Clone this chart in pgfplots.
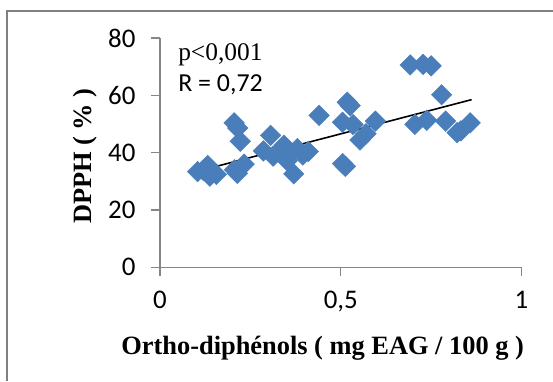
\documentclass[border=0pt]{standalone}
\usepackage{pgfplots}
\pgfplotsset{compat=1.18}
\usepackage{fontspec}
\setmainfont{Liberation Serif}
\newfontfamily\calibri{Carlito}

\definecolor{ptblue}{RGB}{74,126,187}
\definecolor{axgray}{RGB}{134,134,134}
\definecolor{framegray}{RGB}{128,128,128}

\begin{document}
\begin{tikzpicture}[x=1bp,y=1bp]
\useasboundingbox (-160,-113.7) rectangle (393,267.3);
% chart area border (left and top edges)
\draw[framegray, line width=1.5bp] (-153,-113.7) -- (-153,256.5) -- (393,256.5);
\begin{axis}[
  at={(0,0)}, anchor=south west,
  scale only axis, width=361.5bp, height=229.3bp,
  xmin=0, xmax=1, ymin=0, ymax=80,
  axis lines=left,
  axis line style={axgray, line width=1.2bp, -},
  tick style={axgray, line width=1.2bp},
  tick align=outside, major tick length=9bp,
  xtick={0,0.5,1}, xticklabels={0,{0,5},1},
  ytick={0,20,40,60,80}, yticklabels={0,20,40,60,80},
  ticklabel style={font=\calibri\fontsize{27}{27}\selectfont},
  xticklabel style={yshift=-11bp},
  yticklabel style={xshift=-12bp},
  xlabel={Ortho-diphénols ( mg EAG / 100 g )},
  ylabel={DPPH ( \% )},
  label style={font=\bfseries\fontsize{26.5}{26.5}\selectfont},
  xlabel style={at={(axis description cs:0.45,-0.352)}, anchor=center},
  ylabel style={at={(axis description cs:-0.206,0.485)}, anchor=center},
  clip=false,
]
\addplot[only marks, mark=square*, mark size=7.3bp,
  mark options={rotate=45, fill=ptblue, draw=ptblue}] coordinates {
  (0.104,33.4) (0.120,33.8) (0.132,35.5) (0.138,31.8) (0.156,32.4)
  (0.205,50.4) (0.215,48.6) (0.222,44.0) (0.206,34.0) (0.214,32.8)
  (0.233,36.0) (0.286,40.6) (0.306,46.0) (0.313,38.8) (0.328,40.2)
  (0.343,42.6) (0.352,37.2) (0.362,39.8) (0.370,32.6) (0.380,41.4)
  (0.395,39.2) (0.410,40.4) (0.440,53.0) (0.505,50.6) (0.518,57.6)
  (0.526,56.4) (0.534,49.8) (0.505,36.2) (0.513,35.2) (0.553,44.4)
  (0.570,46.6) (0.596,51.0) (0.692,70.6) (0.728,70.8) (0.750,70.3)
  (0.779,60.2) (0.705,49.9) (0.738,51.3) (0.790,51.0) (0.822,47.0)
  (0.832,47.6) (0.858,50.4)
};
% linear trend
\addplot[black, line width=1.6bp] coordinates {(0.104,33.5) (0.862,58.5)};
\node[anchor=west, inner sep=0pt, font=\fontsize{25.5}{25.5}\selectfont]
  at (axis cs:0.05,74.1) {p<0,001};
\node[anchor=west, inner sep=0pt, font=\calibri\fontsize{26}{26}\selectfont]
  at (axis cs:0.05,63.6) {R = 0,72};
\end{axis}
\end{tikzpicture}
\end{document}
